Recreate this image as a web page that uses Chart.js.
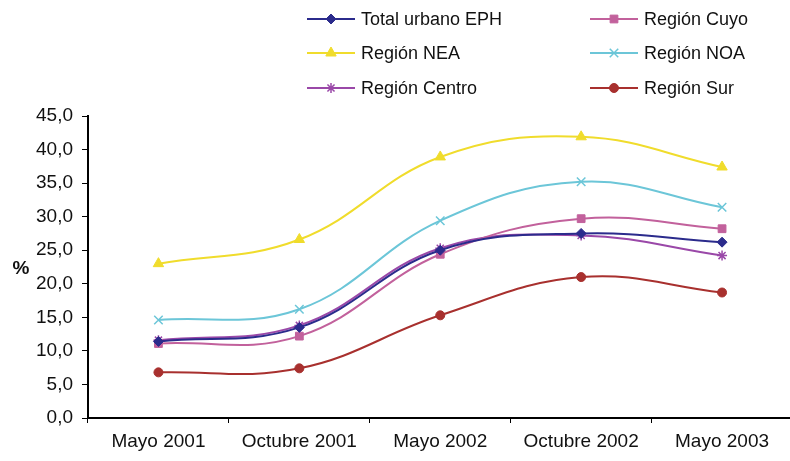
<!DOCTYPE html>
<html><head><meta charset="utf-8">
<script src="https://cdn.jsdelivr.net/npm/chart.js@4/dist/chart.umd.min.js"></script>
<style>html,body{margin:0;padding:0;background:#fff}#w{width:790px;height:461px;overflow:hidden}</style>
</head><body><div id="w"><canvas id="c" width="800" height="461"></canvas></div>
<script>
const categories = ["Mayo 2001","Octubre 2001","Mayo 2002","Octubre 2002","Mayo 2003"];
const seriesNames = ["Total urbano EPH","Región Cuyo","Región NEA","Región NOA","Región Centro","Región Sur"];
const totalUrbano = [11.4, 13.5, 25.0, 27.5, 26.2];
const regionCuyo = [11.1, 12.2, 24.4, 29.7, 28.2];
const regionNEA = [23.0, 26.6, 38.9, 41.9, 37.4];
const regionNOA = [14.6, 16.2, 29.4, 35.2, 31.4];
const regionCentro = [11.6, 13.8, 25.3, 27.2, 24.2];
const regionSur = [6.8, 7.4, 15.3, 21.0, 18.7];
const yTicks = [0,5,10,15,20,25,30,35,40,45];
const yTitle = "%";

const FONT = "'Liberation Sans Narrow','Liberation Sans',Arial,sans-serif";
const styles = [
  {color:'#2b2b8c', point:'rectRot', r:5},
  {color:'#c2619c', point:'rect', r:5.5},
  {color:'#f0dc2c', point:'triangle', r:6},
  {color:'#6cc6d8', point:'crossRot', r:6},
  {color:'#9a48a8', point:'star', r:5},
  {color:'#a8302e', point:'circle', r:4.5}
];
const values = [totalUrbano, regionCuyo, regionNEA, regionNOA, regionCentro, regionSur];

const datasets = values.map((v,i)=>({
  label: seriesNames[i],
  data: v,
  borderColor: styles[i].color,
  backgroundColor: styles[i].color,
  pointStyle: styles[i].point,
  pointRadius: styles[i].r,
  pointBorderWidth: (styles[i].point==='crossRot'||styles[i].point==='star')?1.5:1,
  borderWidth: 2,
  tension: 0.4,
  fill: false
}));

const legendPlugin = {
  id:'customLegend',
  afterDraw(chart){
    const ctx = chart.ctx;
    const cols = [307, 590];
    const rows = [19, 53, 88];
    ctx.save();
    ctx.font = "18px " + FONT;
    ctx.textBaseline = 'middle';
    ctx.textAlign = 'left';
    datasets.forEach((ds,i)=>{
      const x = cols[i%2], y = rows[Math.floor(i/2)];
      ctx.strokeStyle = ds.borderColor;
      ctx.lineWidth = 2;
      ctx.beginPath(); ctx.moveTo(x,y); ctx.lineTo(x+48,y); ctx.stroke();
      ctx.fillStyle = ds.backgroundColor;
      ctx.lineWidth = ds.pointBorderWidth;
      Chart.helpers.drawPoint(ctx,{pointStyle:ds.pointStyle,radius:ds.pointRadius,rotation:0,borderWidth:ds.pointBorderWidth},x+24,y);
      ctx.fillStyle = '#111';
      ctx.fillText(ds.label, x+54, y+1);
    });
    ctx.font = "bold 19px " + FONT;
    ctx.textAlign = 'center';
    ctx.fillText(yTitle, 21, 269);
    ctx.restore();
  }
};

new Chart(document.getElementById('c'), {
  type:'line',
  data:{labels:categories, datasets},
  options:{
    responsive:false,
    animation:false,
    layout:{padding:{top:116,right:0,left:0,bottom:0}},
    plugins:{legend:{display:false}, tooltip:{enabled:false}},
    scales:{
      x:{
        offset:true,
        grid:{offset:true, drawOnChartArea:false, color:'#000', tickLength:5, tickColor:'#000'},
        border:{color:'#000', width:2},
        ticks:{color:'#111', font:{family:FONT, size:19}, padding:7, maxRotation:0, autoSkip:false},
        afterFit(s){ s.height = 43; }
      },
      y:{
        min:0, max:45,
        afterBuildTicks(s){ s.ticks = yTicks.map(v=>({value:v})); },
        grid:{drawOnChartArea:false, color:'#000', tickLength:6, tickColor:'#000'},
        border:{color:'#000', width:2},
        ticks:{color:'#111', font:{family:FONT, size:19}, padding:9,
          callback:(v)=>Number(v).toFixed(1).replace('.',',')},
        afterFit(s){ s.width = 88; }
      }
    }
  },
  plugins:[legendPlugin]
});
</script>
</body></html>
